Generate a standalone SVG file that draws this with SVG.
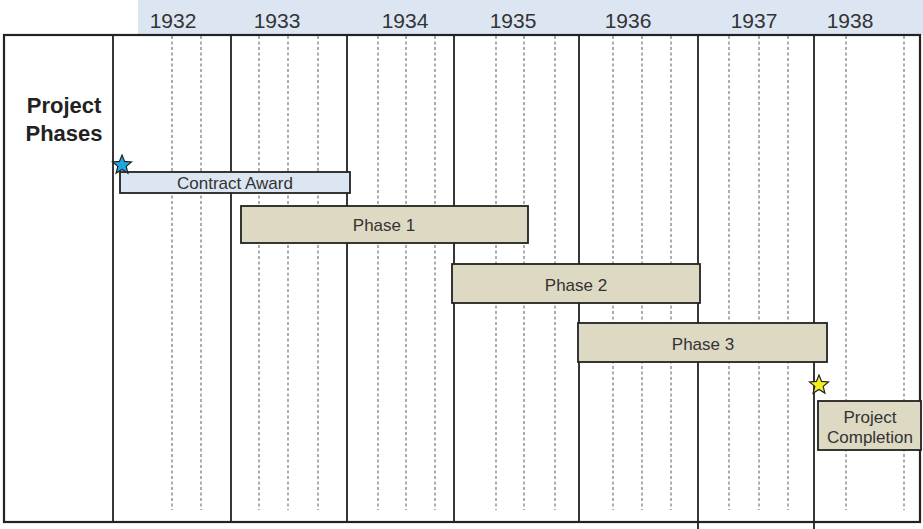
<svg xmlns="http://www.w3.org/2000/svg" width="923" height="529" viewBox="0 0 923 529">
<style>
.year{font-family:"Liberation Sans",Arial,sans-serif;font-size:21px;fill:#333;text-anchor:middle}
.solid{stroke:#222;stroke-width:1.8;fill:none}
.dash{stroke:#777;stroke-width:1.2;stroke-dasharray:3,2.5;fill:none}
.bar{stroke:#222;stroke-width:1.8}
.tan{fill:#ddd9c3}
.blue{fill:#dce6f2}
.lbl{font-family:"Liberation Sans",Arial,sans-serif;font-size:17px;fill:#333;text-anchor:middle}
.title{font-family:"Liberation Sans",Arial,sans-serif;font-size:22px;font-weight:bold;fill:#222;text-anchor:middle}
</style>
<rect x="0" y="0" width="923" height="529" fill="#fff"/>
<rect x="138" y="0" width="785" height="35" fill="#dce6f2"/>
<g id="years">
<text class="year" x="173" y="28">1932</text>
<text class="year" x="277" y="28">1933</text>
<text class="year" x="405" y="28">1934</text>
<text class="year" x="513" y="28">1935</text>
<text class="year" x="628" y="28">1936</text>
<text class="year" x="754" y="28">1937</text>
<text class="year" x="850" y="28">1938</text>
</g>
<g id="grid">
<path class="dash" d="M172,36V510M201,36V510M259,36V510M288,36V510M318,36V510M378,36V510M406,36V510M435,36V510M496,36V510M524,36V510M555,36V510M613,36V510M642,36V510M671,36V510M729,36V510M759,36V510M788,36V510M846,36V510M904,36V510"/>
<path class="solid" d="M113,35V522M231,35V522M347,35V522M454,35V522M579,35V522M698,35V529M814,35V529"/>
<rect x="4" y="35" width="916" height="487" fill="none" stroke="#222" stroke-width="2.2"/>
</g>
<text class="title" x="64" y="113">Project</text>
<text class="title" x="64" y="141">Phases</text>
<g id="contract-award">
<rect class="bar blue" x="120" y="172" width="230" height="21"/>
<text class="lbl" x="235" y="189" font-size="16">Contract Award</text>
</g>
<g id="star-start">
<polygon points="122,155 124.6,161.4 131.5,161.9 126.2,166.4 127.9,173.1 122,169.4 116.1,173.1 117.8,166.4 112.5,161.9 119.4,161.4" fill="#1ea7e1" stroke="#222" stroke-width="1.2"/>
</g>
<g id="phase-1">
<rect class="bar tan" x="241" y="206" width="287" height="37"/>
<text class="lbl" x="384" y="231">Phase 1</text>
</g>
<g id="phase-2">
<rect class="bar tan" x="452" y="264" width="248" height="39"/>
<text class="lbl" x="576" y="291">Phase 2</text>
</g>
<g id="phase-3">
<rect class="bar tan" x="578" y="323" width="249" height="39"/>
<text class="lbl" x="703" y="350">Phase 3</text>
</g>
<g id="star-end">
<polygon points="819,375 821.6,381.4 828.5,381.9 823.2,386.4 824.9,393.1 819,389.4 813.1,393.1 814.8,386.4 809.5,381.9 816.4,381.4" fill="#f2ef1c" stroke="#222" stroke-width="1.2"/>
</g>
<g id="project-completion">
<rect class="bar tan" x="818" y="401" width="103" height="49"/>
<text class="lbl" x="870" y="423">Project</text>
<text class="lbl" x="870" y="443">Completion</text>
</g>
</svg>
